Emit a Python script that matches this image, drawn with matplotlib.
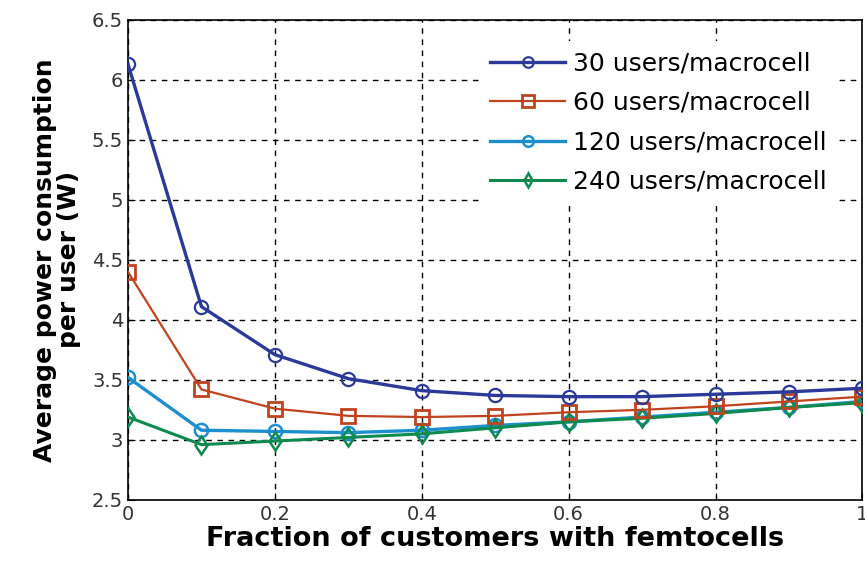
import matplotlib
matplotlib.use('Agg')
import matplotlib.pyplot as plt

# fraction of customers with femtocells
frac = [0, 0.1, 0.2, 0.3, 0.4, 0.5, 0.6, 0.7, 0.8, 0.9, 1.0]

# average power per user (W)
p30 = [6.13, 4.11, 3.71, 3.51, 3.41, 3.37, 3.36, 3.36, 3.38, 3.40, 3.43]
p60 = [4.40, 3.42, 3.26, 3.20, 3.19, 3.20, 3.23, 3.25, 3.28, 3.32, 3.36]
p120 = [3.52, 3.08, 3.07, 3.06, 3.08, 3.12, 3.15, 3.19, 3.23, 3.27, 3.32]
p240 = [3.19, 2.96, 2.99, 3.02, 3.05, 3.10, 3.15, 3.18, 3.22, 3.27, 3.31]

labels = ['30 users/macrocell', '60 users/macrocell',
          '120 users/macrocell', '240 users/macrocell']

fig = plt.figure(figsize=(8.65, 5.68), dpi=100)
ax = fig.add_axes([0.148, 0.12, 0.849, 0.845])

ax.plot(frac, p30, color='#2b3a9a', lw=2.4, marker='o', ms=9.5, mfc='none', mew=1.6, label=labels[0], zorder=5)
ax.plot(frac, p60, color='#c0431e', lw=1.6, marker='s', ms=10.5, mfc='none', mew=2, label=labels[1], zorder=4)
ax.plot(frac, p120, color='#1d8fd0', lw=2.4, marker='o', ms=9.5, mfc='none', mew=1.8, label=labels[2], zorder=3)
ax.plot(frac, p240, color='#0e8a4f', lw=2.2, marker='d', ms=9.5, mfc='none', mew=1.8, label=labels[3], zorder=3)

ax.set_xlim(0, 1)
ax.set_ylim(2.5, 6.5)
ax.set_xticks([0, 0.2, 0.4, 0.6, 0.8, 1])
ax.set_xticklabels(['0', '0.2', '0.4', '0.6', '0.8', '1'])
ax.set_yticks([2.5, 3, 3.5, 4, 4.5, 5, 5.5, 6, 6.5])
ax.set_yticklabels(['2.5', '3', '3.5', '4', '4.5', '5', '5.5', '6', '6.5'])
ax.tick_params(labelsize=14, labelcolor='#333333', direction='in', length=5)
ax.grid(True, color='black', linestyle=(0, (4, 4)), lw=1)
for s in ax.spines.values():
    s.set_linewidth(1.2)

ax.set_xlabel('Fraction of customers with femtocells', fontsize=19.5, fontweight='heavy', labelpad=2)
ax.set_ylabel('Average power consumption\nper user (W)', fontsize=18, fontweight='heavy', labelpad=8,
              linespacing=1.0)

leg = ax.legend(loc='upper right', bbox_to_anchor=(0.965, 0.955), fontsize=18, frameon=True,
                handlelength=3.0, borderaxespad=0, labelspacing=0.62, handletextpad=0.3, markerscale=0.8)
leg.get_frame().set_edgecolor('none')
leg.get_frame().set_facecolor('white')
leg.get_frame().set_alpha(1)

plt.savefig('out.png')
